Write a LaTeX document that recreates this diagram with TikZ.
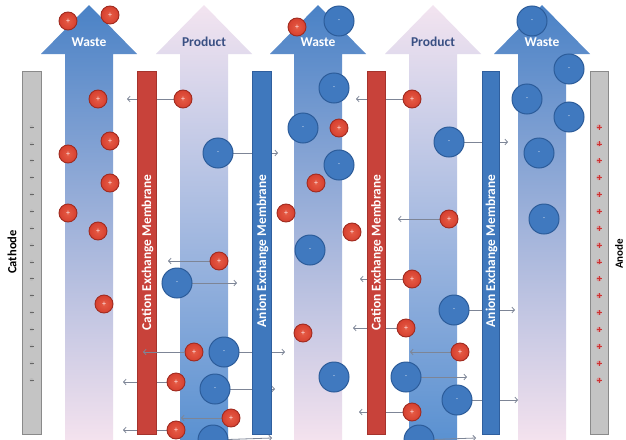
\documentclass[tikz,border=0pt]{standalone}
\usepackage{fontspec}
\setmainfont{Carlito}
\usetikzlibrary{arrows.meta}
\pgfdeclarelayer{bg}
\pgfdeclarelayer{lines}
\pgfdeclarelayer{memb}
\pgfsetlayers{bg,lines,memb,main}
\definecolor{wtop}{HTML}{4A82C6}
\definecolor{wmid}{HTML}{88B3E2}
\definecolor{wbot}{HTML}{F4E2EE}
\definecolor{ptop}{HTML}{F3E4F0}
\definecolor{pmid}{HTML}{B7CEEB}
\definecolor{pbot}{HTML}{5A91D1}
\definecolor{membred}{HTML}{C8423A}
\definecolor{membredD}{HTML}{A5332C}
\definecolor{membblue}{HTML}{3F78BD}
\definecolor{membblueD}{HTML}{2F5F9E}
\definecolor{elec}{HTML}{C4C4C4}
\definecolor{elecD}{HTML}{8A8A8A}
\definecolor{ionred}{HTML}{D6402F}
\definecolor{ionredL}{HTML}{E65C46}
\definecolor{ionredD}{HTML}{A02B20}
\definecolor{ionblue}{HTML}{4079BF}
\definecolor{ionblueD}{HTML}{2C5C9A}
\definecolor{arrgray}{HTML}{7D8596}
\definecolor{prodtext}{HTML}{3A5083}
\newcommand\bigarrow[2]{%
  \shade[#2] (#1-24,440) -- (#1-24,54) -- (#1-48,54) -- (#1,5) -- (#1+48,54) -- (#1+24,54) -- (#1+24,440) -- cycle;}
\begin{document}
\begin{tikzpicture}[x=1pt,y=-1pt,
  waste/.style={top color=wtop, middle color=wmid, bottom color=wbot},
  product/.style={top color=ptop, middle color=pmid, bottom color=pbot},
  flowlabel/.style={font=\fontsize{13.5}{14}\selectfont\bfseries, inner sep=0pt},
  electrode/.style={fill=elec, draw=elecD, line width=1pt},
  cmemb/.style={fill=membred, draw=membredD, line width=0.6pt},
  amemb/.style={fill=membblue, draw=membblueD, line width=0.6pt},
  membtext/.style={rotate=90, text=white, font=\fontsize{13.4}{14}\selectfont\bfseries, inner sep=0pt},
  electext/.style={rotate=90, text=black, font=\fontsize{12.5}{13}\selectfont\bfseries, inner sep=0pt},
  ionpos/.style={circle, minimum size=18pt, inner sep=0pt, shading=radial, inner color=ionredL, outer color=ionred, draw=ionredD, line width=0.9pt, text=white!90!red, font=\fontsize{8}{8}\selectfont},
  ionneg/.style={circle, minimum size=30pt, inner sep=0pt, fill=ionblue, draw=ionblueD, line width=1pt, text=white!65!ionblue, font=\fontsize{8}{8}\selectfont},
  ionarrow/.style={draw=arrgray, line width=0.8pt, -{Straight Barb[length=2.5pt,width=5.5pt]}}
]
\useasboundingbox (0,0) rectangle (626,439);

% ---------- background flows and electrodes ----------
\begin{pgfonlayer}{bg}
\fill[white] (0,0) rectangle (626,439);
\bigarrow{89}{waste}
\bigarrow{204}{product}
\bigarrow{318}{waste}
\bigarrow{433}{product}
\bigarrow{542}{waste}
\draw[electrode] (22,71) rectangle (41,434);
\draw[electrode] (590,71) rectangle (608,434);
\foreach \i in {0,...,15}{
  \fill[gray!55] (31.5,127+\i*16.87) circle (2pt);
  \draw[black!60, line width=0.7pt] (30,127+\i*16.87) -- (33.5,127+\i*16.87);
  \fill[red!25!elec] (599,127+\i*16.87) circle (2.6pt);
  \draw[red!75!black!80, line width=0.7pt] (596.5,127+\i*16.87) -- (601.5,127+\i*16.87)
       (599,124.5+\i*16.87) -- (599,129.5+\i*16.87);
}
\end{pgfonlayer}

\node[flowlabel, text=white] (w1) at (89,42) {Waste};
\node[flowlabel, text=prodtext] (p1) at (204,42) {Product};
\node[flowlabel, text=white] (w2) at (318,42) {Waste};
\node[flowlabel, text=prodtext] (p2) at (433,42) {Product};
\node[flowlabel, text=white] (w3) at (542,42) {Waste};

\node[electext] (cath) at (12,252) {Cathode};
\node[electext, font=\fontsize{11}{12}\selectfont\bfseries] (anod) at (619,254) {Anode};

% ---------- membranes ----------
\begin{pgfonlayer}{memb}
\draw[cmemb] (137,71) rectangle (156,434);
\draw[amemb] (252,71) rectangle (271,434);
\draw[cmemb] (367,71) rectangle (385,434);
\draw[amemb] (482,71) rectangle (499,434);
\node[membtext] (cm1) at (147.5,252.5) {Cation Exchange Membrane};
\node[membtext] (am1) at (262.5,251) {Anion Exchange Membrane};
\node[membtext] (cm2) at (377,252.5) {Cation Exchange Membrane};
\node[membtext] (am2) at (491.5,251) {Anion Exchange Membrane};
\end{pgfonlayer}

% ---------- cations ----------
\node[ionpos] (r1) at (68,21) {+};
\node[ionpos] (r2) at (110,15) {+};
\node[ionpos] (r3) at (98,99) {+};
\node[ionpos] (r4) at (183,99) {+};
\node[ionpos] (r5) at (110,141) {+};
\node[ionpos] (r6) at (68,154) {+};
\node[ionpos] (r7) at (110,183) {+};
\node[ionpos] (r8) at (68,213) {+};
\node[ionpos] (r9) at (98,231) {+};
\node[ionpos] (r10) at (219,261) {+};
\node[ionpos] (r11) at (286,213) {+};
\node[ionpos] (r12) at (104,304) {+};
\node[ionpos] (r13) at (194,352) {+};
\node[ionpos] (r14) at (176,382) {+};
\node[ionpos] (r15) at (231,418) {+};
\node[ionpos] (r16) at (176,430) {+};
\node[ionpos] (r17) at (303,333) {+};
\node[ionpos] (r18) at (297,27) {+};
\node[ionpos] (r19) at (339,128) {+};
\node[ionpos] (r20) at (412,99) {+};
\node[ionpos] (r21) at (316,183) {+};
\node[ionpos] (r22) at (352,232) {+};
\node[ionpos] (r23) at (449,219) {+};
\node[ionpos] (r24) at (412,279) {+};
\node[ionpos] (r25) at (406,328) {+};
\node[ionpos] (r26) at (460,352) {+};
\node[ionpos] (r27) at (412,412) {+};

% ---------- anions ----------
\node[ionneg] (b1) at (339,21) {-};
\node[ionneg] (b2) at (532,21) {-};
\node[ionneg] (b3) at (334,88) {-};
\node[ionneg] (b4) at (569,69) {-};
\node[ionneg] (b5) at (527,99) {-};
\node[ionneg] (b6) at (569,117) {-};
\node[ionneg] (b7) at (449,142) {-};
\node[ionneg] (b8) at (303,128) {-};
\node[ionneg] (b9) at (218,153) {-};
\node[ionneg] (b10) at (339,165) {-};
\node[ionneg] (b11) at (539,153) {-};
\node[ionneg] (b12) at (544,219) {-};
\node[ionneg] (b13) at (310,250) {-};
\node[ionneg] (b14) at (177,283) {-};
\node[ionneg] (b15) at (224,352) {-};
\node[ionneg] (b16) at (215,389) {-};
\node[ionneg] (b17) at (213,440) {};
\node[ionneg] (b18) at (454,310) {-};
\node[ionneg] (b19) at (334,377) {-};
\node[ionneg] (b20) at (406,377) {-};
\node[ionneg] (b21) at (457,400) {-};
\node[ionneg] (b22) at (419,440) {};

% ---------- arrow end points ----------
\coordinate (e4) at (127,99);
\coordinate (e10) at (168,261);
\coordinate (e13) at (143,352);
\coordinate (e14) at (123,382);
\coordinate (e15) at (181,418);
\coordinate (e16) at (123,430);
\coordinate (e20) at (356,99);
\coordinate (e23) at (398,219);
\coordinate (e24) at (360,279);
\coordinate (e25) at (353,328);
\coordinate (e26) at (410,352);
\coordinate (e27) at (359,412);
\coordinate (f7) at (508,142);
\coordinate (f9) at (278,153);
\coordinate (f14) at (237,283);
\coordinate (f15) at (285,352);
\coordinate (f16) at (275,389);
\coordinate (f17) at (272,438);
\coordinate (f18) at (515,310);
\coordinate (f20) at (467,377);
\coordinate (f21) at (518,400);
\coordinate (f22) at (476,438);

\begin{pgfonlayer}{lines}
\foreach \n in {4,10,14,15,16,20,23,24,25,26,27}{
  \draw[ionarrow] (r\n.center) -- (e\n);
}
\foreach \n in {7,9,14,15,16,17,18,20,21,22}{
  \draw[ionarrow] (b\n.center) -- (f\n);
}
\end{pgfonlayer}
\draw[ionarrow] (r13.west) -- (e13);
\end{tikzpicture}
\end{document}
